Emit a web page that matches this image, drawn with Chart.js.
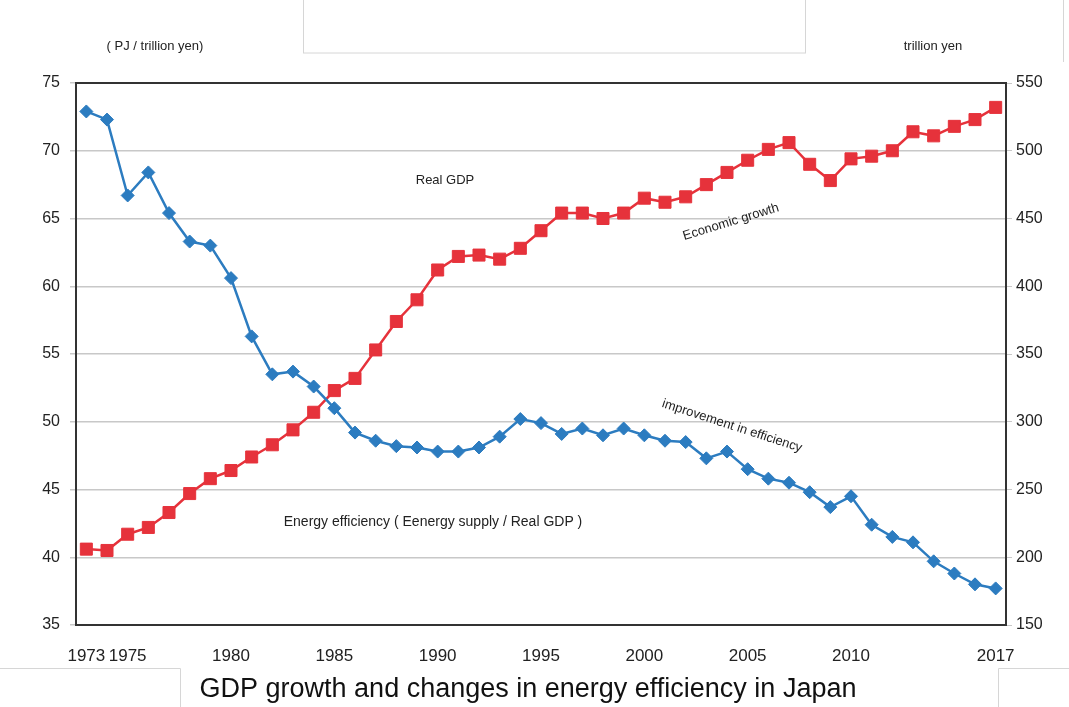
<!DOCTYPE html>
<html>
<head>
<meta charset="utf-8">
<script src="https://cdn.jsdelivr.net/npm/chart.js@4/dist/chart.umd.min.js"></script>
<style>
    html, body { margin: 0; padding: 0; background: #fff; }
    #wrap { width: 1069px; height: 707px; position: relative; }
</style>
</head>
<body>
<div id="wrap"><canvas id="chart" width="1069" height="707"></canvas></div>
<script>
// categories
const years = ['1973', '1974', '1975', '1976', '1977', '1978', '1979', '1980', '1981', '1982',
    '1983', '1984', '1985', '1986', '1987', '1988', '1989', '1990', '1991', '1992',
    '1993', '1994', '1995', '1996', '1997', '1998', '1999', '2000', '2001', '2002',
    '2003', '2004', '2005', '2006', '2007', '2008', '2009', '2010', '2011', '2012',
    '2013', '2014', '2015', '2016', '2017'];
const shownYears = ['1973', '1975', '1980', '1985', '1990', '1995', '2000', '2005', '2010', '2017'];

// Energy efficiency (PJ / trillion yen), left axis
const efficiency = [72.9, 72.3, 66.7, 68.4, 65.4, 63.3, 63.0, 60.6, 56.3, 53.5,
    53.7, 52.6, 51.0, 49.2, 48.6, 48.2, 48.1, 47.8, 47.8, 48.1,
    48.9, 50.2, 49.9, 49.1, 49.5, 49.0, 49.5, 49.0, 48.6, 48.5,
    47.3, 47.8, 46.5, 45.8, 45.5, 44.8, 43.7, 44.5, 42.4, 41.5,
    41.1, 39.7, 38.8, 38.0, 37.7];

// Real GDP (trillion yen), right axis
const realGdp = [206, 205, 217, 222, 233, 247, 258, 264, 274, 283,
    294, 307, 323, 332, 353, 374, 390, 412, 422, 423,
    420, 428, 441, 454, 454, 450, 454, 465, 462, 466,
    475, 484, 493, 501, 506, 490, 478, 494, 496, 500,
    514, 511, 518, 523, 532];

// axis ranges
const leftMin = 35, leftMax = 75, leftStep = 5;
const rightMin = 150, rightMax = 550, rightStep = 50;

const blue = '#2c7cc0';
const red = '#e6323b';
const tickFont = { family: 'Liberation Sans, Arial, sans-serif', size: 16 };

const decorPlugin = {
    id: 'decor',
    beforeDraw(chart) {
        const ctx = chart.ctx;
        ctx.save();
        ctx.fillStyle = '#fff';
        ctx.fillRect(0, 0, chart.width, chart.height);
        // faint frames from the source page
        ctx.strokeStyle = '#d6d6d6';
        ctx.lineWidth = 1;
        ctx.strokeRect(303.5, -1, 502, 54);
        ctx.beginPath();
        ctx.moveTo(1063.5, 0); ctx.lineTo(1063.5, 62);
        ctx.moveTo(0, 668.5); ctx.lineTo(180.5, 668.5); ctx.lineTo(180.5, 707);
        ctx.moveTo(998.5, 707); ctx.lineTo(998.5, 668.5); ctx.lineTo(1069, 668.5);
        ctx.stroke();
        ctx.restore();
    },
    afterDraw(chart) {
        const ctx = chart.ctx;
        const a = chart.chartArea;
        ctx.save();
        // top border of the plot
        ctx.strokeStyle = '#333';
        ctx.lineWidth = 2;
        ctx.beginPath();
        ctx.moveTo(a.left, a.top);
        ctx.lineTo(a.right, a.top);
        ctx.stroke();

        ctx.fillStyle = '#222';
        ctx.textAlign = 'center';
        ctx.textBaseline = 'middle';
        ctx.font = '13px Liberation Sans, Arial, sans-serif';
        ctx.fillText('( PJ / trillion yen)', 155, 46);
        ctx.fillText('trillion yen', 933, 46);
        ctx.fillText('Real GDP', 445, 180);
        ctx.font = '14px Liberation Sans, Arial, sans-serif';
        ctx.fillText('Energy efficiency ( Eenergy supply / Real GDP )', 433, 522);

        ctx.font = '13px Liberation Sans, Arial, sans-serif';
        ctx.save();
        ctx.translate(731, 222);
        ctx.rotate(-17 * Math.PI / 180);
        ctx.fillText('Economic growth', 0, 0);
        ctx.restore();
        ctx.save();
        ctx.translate(732, 426);
        ctx.rotate(18 * Math.PI / 180);
        ctx.fillText('improvement in efficiency', 0, 0);
        ctx.restore();

        ctx.font = '27px Liberation Sans, Arial, sans-serif';
        ctx.fillStyle = '#111';
        ctx.fillText('GDP growth and changes in energy efficiency in Japan', 528, 690);
        ctx.restore();
    }
};

const ctx = document.getElementById('chart').getContext('2d');
new Chart(ctx, {
    type: 'line',
    data: {
        labels: years,
        datasets: [{
            label: 'Energy efficiency',
            data: efficiency,
            yAxisID: 'y',
            borderColor: blue,
            backgroundColor: blue,
            borderWidth: 2.5,
            pointStyle: 'rectRot',
            pointRadius: 6.5,
            pointBorderWidth: 1,
            tension: 0
        }, {
            label: 'Real GDP',
            data: realGdp,
            yAxisID: 'y1',
            borderColor: red,
            backgroundColor: red,
            borderWidth: 2.5,
            pointStyle: 'rect',
            pointRadius: 8.5,
            pointBorderWidth: 1,
            tension: 0
        }]
    },
    options: {
        responsive: false,
        animation: false,
        layout: { padding: { top: 83, left: 0, right: 0, bottom: 0 } },
        plugins: {
            legend: { display: false },
            tooltip: { enabled: false }
        },
        scales: {
            x: {
                type: 'category',
                offset: true,
                grid: { display: false },
                border: { color: '#333', width: 2 },
                ticks: {
                    autoSkip: false,
                    maxRotation: 0,
                    padding: 13,
                    color: '#222',
                    font: { family: tickFont.family, size: 17 },
                    callback: (v, i) => shownYears.includes(years[i]) ? years[i] : ''
                },
                afterFit: s => { s.height = 82; }
            },
            y: {
                position: 'left',
                min: leftMin,
                max: leftMax,
                ticks: { stepSize: leftStep, padding: 10, color: '#222', font: tickFont },
                grid: { color: '#c8c8c8', lineWidth: 1.5, tickLength: 6 },
                border: { color: '#333', width: 2 },
                afterFit: s => { s.width = 76; }
            },
            y1: {
                position: 'right',
                min: rightMin,
                max: rightMax,
                ticks: { stepSize: rightStep, padding: 4, color: '#222', font: tickFont },
                grid: { drawOnChartArea: false, color: '#c8c8c8', tickLength: 6 },
                border: { color: '#333', width: 2 },
                afterFit: s => { s.width = 63; }
            }
        }
    },
    plugins: [decorPlugin]
});
</script>
</body>
</html>
